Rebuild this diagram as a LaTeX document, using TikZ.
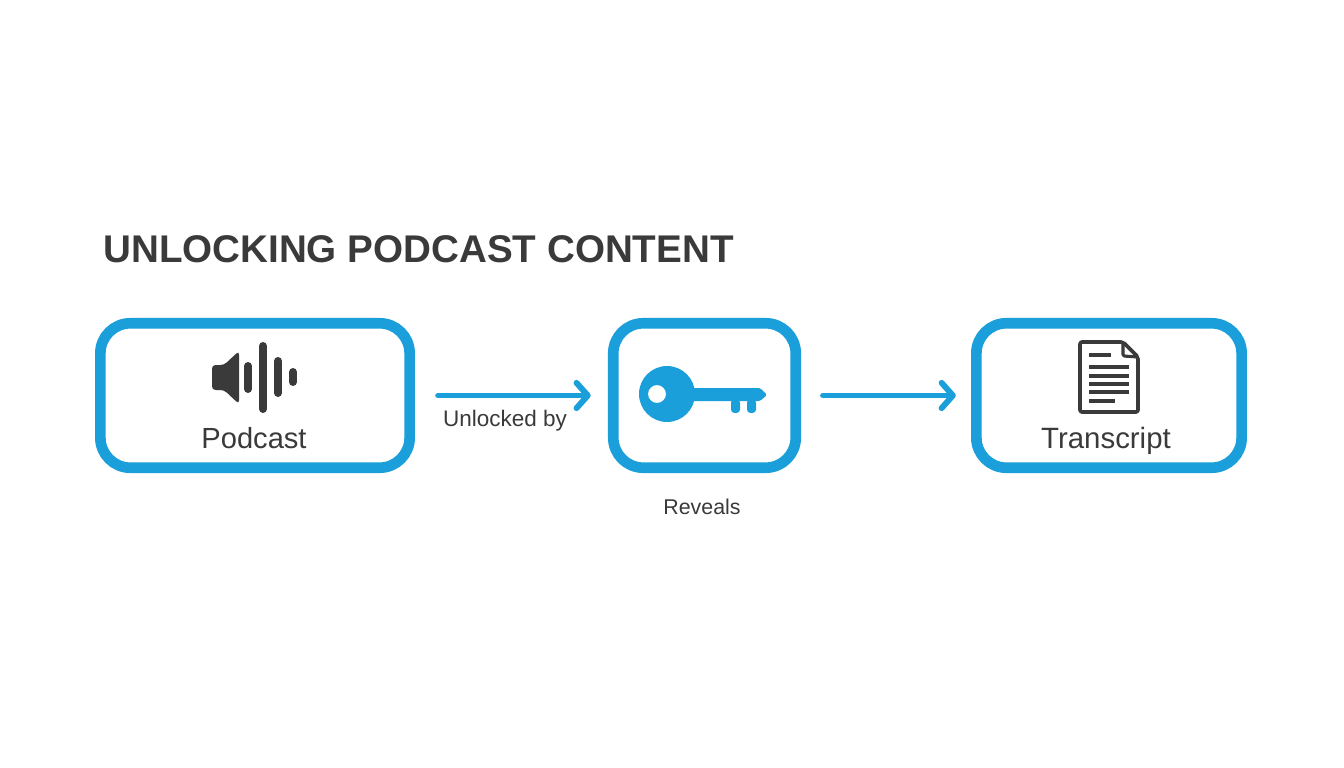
\documentclass[tikz,border=0pt]{standalone}
\usepackage{fontspec}
\setmainfont{Liberation Sans}
\usetikzlibrary{arrows, arrows.meta}
\definecolor{boxblue}{HTML}{1A9FDB}
\definecolor{inkgray}{HTML}{3A3A3A}
\tikzset{
    box/.style={draw=boxblue, line width=7.6pt, rounded corners=0.75cm, fill=white, inner sep=0pt, minimum height=3.61cm},
    flow/.style={draw=boxblue, line width=4.2pt, line cap=round, -{Straight Barb[length=8pt, width=18pt, round]}},
    label/.style={text=inkgray, inner sep=0pt, anchor=base},
    bar/.style={draw=inkgray, line width=5.7pt, line cap=round},
    docline/.style={draw=inkgray, line width=2.2pt}
}
\begin{document}
\begin{tikzpicture}[x=0.025cm, y=-0.025cm]
    \useasboundingbox[fill=white] (0,0) rectangle (1344,768);

    \node[label, anchor=base west, font=\fontsize{27.45}{27.45}\selectfont\bfseries] (title) at (103,263) {UNLOCKING PODCAST CONTENT};

    \node[box, minimum width=7.73cm] (podcast) at (255,395.5) {};
    \node[box, minimum width=4.56cm] (key) at (704.5,395.5) {};
    \node[box, minimum width=6.63cm] (transcript) at (1109,395.5) {};

    \draw[flow, shorten <=0.58cm, shorten >=0.43cm] (podcast.east) -- (key.west);
    \draw[flow, shorten <=0.55cm, shorten >=0.38cm] (key.east) -- (transcript.west);

    \node[label, font=\fontsize{20.7}{20.7}\selectfont] (podcastlabel) at (254,448) {Podcast};
    \node[label, font=\fontsize{20.9}{20.9}\selectfont] (transcriptlabel) at (1106,448) {Transcript};
    \node[label, font=\fontsize{16}{16}\selectfont] (unlocked) at (505,426) {Unlocked by};
    \node[label, font=\fontsize{15.2}{15.2}\selectfont] (reveals) at (702,514) {Reveals};

    \fill[inkgray, rounded corners=2.5pt] (212,365) -- (224,365) -- (239,351) -- (239,404) -- (224,390) -- (212,390) -- cycle;
    \draw[bar] (248,366) -- (248,389);
    \draw[bar] (263,346) -- (263,409);
    \draw[bar] (278,361) -- (278,393);
    \draw[bar] (293,372) -- (293,382);

    \fill[boxblue, even odd rule] (667,394) circle (28) (657,394) circle (9);
    \fill[boxblue, rounded corners=1pt] (685,388) -- (760,388) -- (767,395) -- (760,401) -- (685,401) -- cycle;
    \fill[boxblue, rounded corners=2.5pt] (731,399) -- (740,399) -- (740,413) -- (731,413) -- cycle;
    \fill[boxblue, rounded corners=2.5pt] (747,399) -- (756,399) -- (756,413) -- (747,413) -- cycle;

    \draw[inkgray, line width=2.6pt, line join=round, rounded corners=1.5pt] (1123,342) -- (1080,342) -- (1080,412) -- (1138,412) -- (1138,357) -- cycle;
    \draw[inkgray, line width=2.2pt, line join=round, rounded corners=1pt] (1123,342) -- (1123,356) -- (1138,357);
    \draw[docline] (1089,355) -- (1111,355);
    \foreach \liney in {367,376,384,392}
        \draw[docline] (1089,\liney) -- (1129,\liney);
    \draw[docline] (1089,401) -- (1115,401);
\end{tikzpicture}
\end{document}
